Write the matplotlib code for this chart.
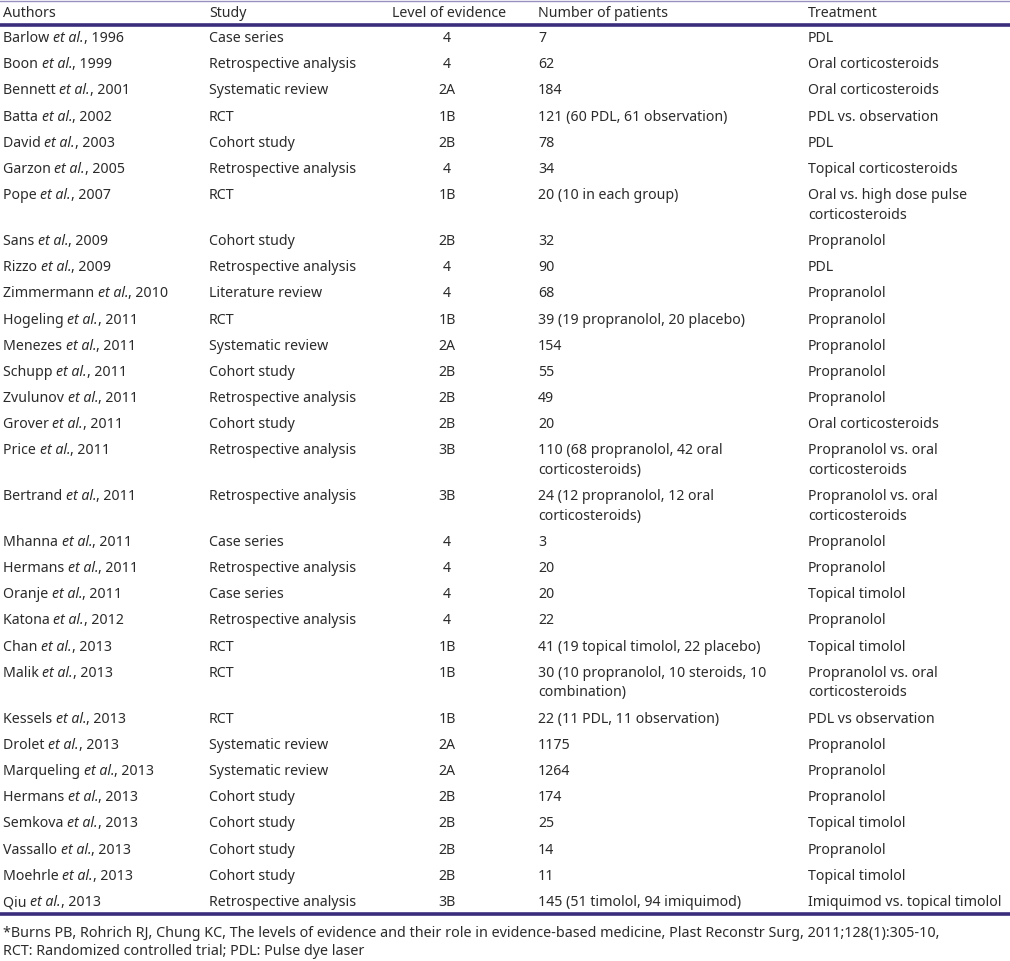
import matplotlib.pyplot as plt

plt.rcParams['font.family'] = 'Noto Sans'

headers = ["Authors", "Study", "Level of evidence", "Number of patients", "Treatment"]

authors = ["Barlow", "Boon", "Bennett", "Batta", "David", "Garzon", "Pope", "Sans",
           "Rizzo", "Zimmermann", "Hogeling", "Menezes", "Schupp", "Zvulunov", "Grover",
           "Price", "Bertrand", "Mhanna", "Hermans", "Oranje", "Katona", "Chan", "Malik",
           "Kessels", "Drolet", "Marqueling", "Hermans", "Semkova", "Vassallo", "Moehrle", "Qiu"]
years = [1996, 1999, 2001, 2002, 2003, 2005, 2007, 2009, 2009, 2010, 2011, 2011, 2011,
         2011, 2011, 2011, 2011, 2011, 2011, 2011, 2012, 2013, 2013, 2013, 2013, 2013,
         2013, 2013, 2013, 2013, 2013]
study = ["Case series", "Retrospective analysis", "Systematic review", "RCT", "Cohort study",
         "Retrospective analysis", "RCT", "Cohort study", "Retrospective analysis",
         "Literature review", "RCT", "Systematic review", "Cohort study",
         "Retrospective analysis", "Cohort study", "Retrospective analysis",
         "Retrospective analysis", "Case series", "Retrospective analysis", "Case series",
         "Retrospective analysis", "RCT", "RCT", "RCT", "Systematic review",
         "Systematic review", "Cohort study", "Cohort study", "Cohort study", "Cohort study",
         "Retrospective analysis"]
level = ["4", "4", "2A", "1B", "2B", "4", "1B", "2B", "4", "4", "1B", "2A", "2B", "2B", "2B",
         "3B", "3B", "4", "4", "4", "4", "1B", "1B", "1B", "2A", "2A", "2B", "2B", "2B", "2B",
         "3B"]
patients = ["7", "62", "184", "121 (60 PDL, 61 observation)", "78", "34",
            "20 (10 in each group)", "32", "90", "68", "39 (19 propranolol, 20 placebo)",
            "154", "55", "49", "20", "110 (68 propranolol, 42 oral\ncorticosteroids)",
            "24 (12 propranolol, 12 oral\ncorticosteroids)", "3", "20", "20", "22",
            "41 (19 topical timolol, 22 placebo)",
            "30 (10 propranolol, 10 steroids, 10\ncombination)",
            "22 (11 PDL, 11 observation)", "1175", "1264", "174", "25", "14", "11",
            "145 (51 timolol, 94 imiquimod)"]
treatment = ["PDL", "Oral corticosteroids", "Oral corticosteroids", "PDL vs. observation",
             "PDL", "Topical corticosteroids", "Oral vs. high dose pulse\ncorticosteroids",
             "Propranolol", "PDL", "Propranolol", "Propranolol", "Propranolol", "Propranolol",
             "Propranolol", "Oral corticosteroids", "Propranolol vs. oral\ncorticosteroids",
             "Propranolol vs. oral\ncorticosteroids", "Propranolol", "Propranolol",
             "Topical timolol", "Propranolol", "Topical timolol",
             "Propranolol vs. oral\ncorticosteroids", "PDL vs observation", "Propranolol",
             "Propranolol", "Propranolol", "Topical timolol", "Propranolol", "Topical timolol",
             "Imiquimod vs. topical timolol"]
footnote = ["*Burns PB, Rohrich RJ, Chung KC, The levels of evidence and their role in "
            "evidence-based medicine, Plast Reconstr Surg, 2011;128(1):305-10,",
            "RCT: Randomized controlled trial; PDL: Pulse dye laser"]

W, H = 1010, 961
fig = plt.figure(figsize=(W / 100, H / 100), dpi=100)
fig.patch.set_facecolor('white')
renderer = fig.canvas.get_renderer()

TXT = '#2b2b2b'
PURPLE = '#3a2d7c'
FS = 10.2


def put(x, y, s, ha='left', fs=FS, **kw):
    # y = row centre in pixels from the top; baseline sits 5px below it
    return fig.text(x / W, 1 - (y + 5) / H, s, ha=ha, va='baseline', color=TXT,
                    fontsize=fs, **kw)


def hline(y, lw, color):
    fig.add_artist(plt.Line2D([0, 1], [1 - y / H, 1 - y / H], lw=lw, color=color,
                              transform=fig.transFigure))


def author_cell(x, y, name, year):
    # "Name et al., year" with only "et al." in italics
    t1 = put(x, y, name + " ")
    w1 = t1.get_window_extent(renderer).width
    t2 = put(x + w1, y, "et al.", style='italic')
    w2 = t2.get_window_extent(renderer).width
    put(x + w1 + w2, y, ", %d" % year)


col_x = [3, 209, 392, 538, 808]
lvl_center = 447

hline(1, 1.0, '#9a90c0')
for x, h in zip(col_x, headers):
    put(x, 12, h)
hline(24.5, 2.6, PURPLE)

y = 37
step, extra = 26.2, 19.5
for i in range(len(authors)):
    author_cell(col_x[0], y, authors[i], years[i])
    put(col_x[1], y, study[i])
    put(lvl_center, y, level[i], ha='center')
    nlines = 1
    for j, cell in enumerate([patients[i], treatment[i]]):
        parts = cell.split("\n")
        nlines = max(nlines, len(parts))
        for k, p in enumerate(parts):
            put(col_x[3 + j], y + k * extra, p)
    y += step + (nlines - 1) * extra

hline(914, 2.6, PURPLE)
for k, line in enumerate(footnote):
    put(3, 932 + k * 18, line, fs=10.3)

fig.savefig("out.png", dpi=100, facecolor='white')
